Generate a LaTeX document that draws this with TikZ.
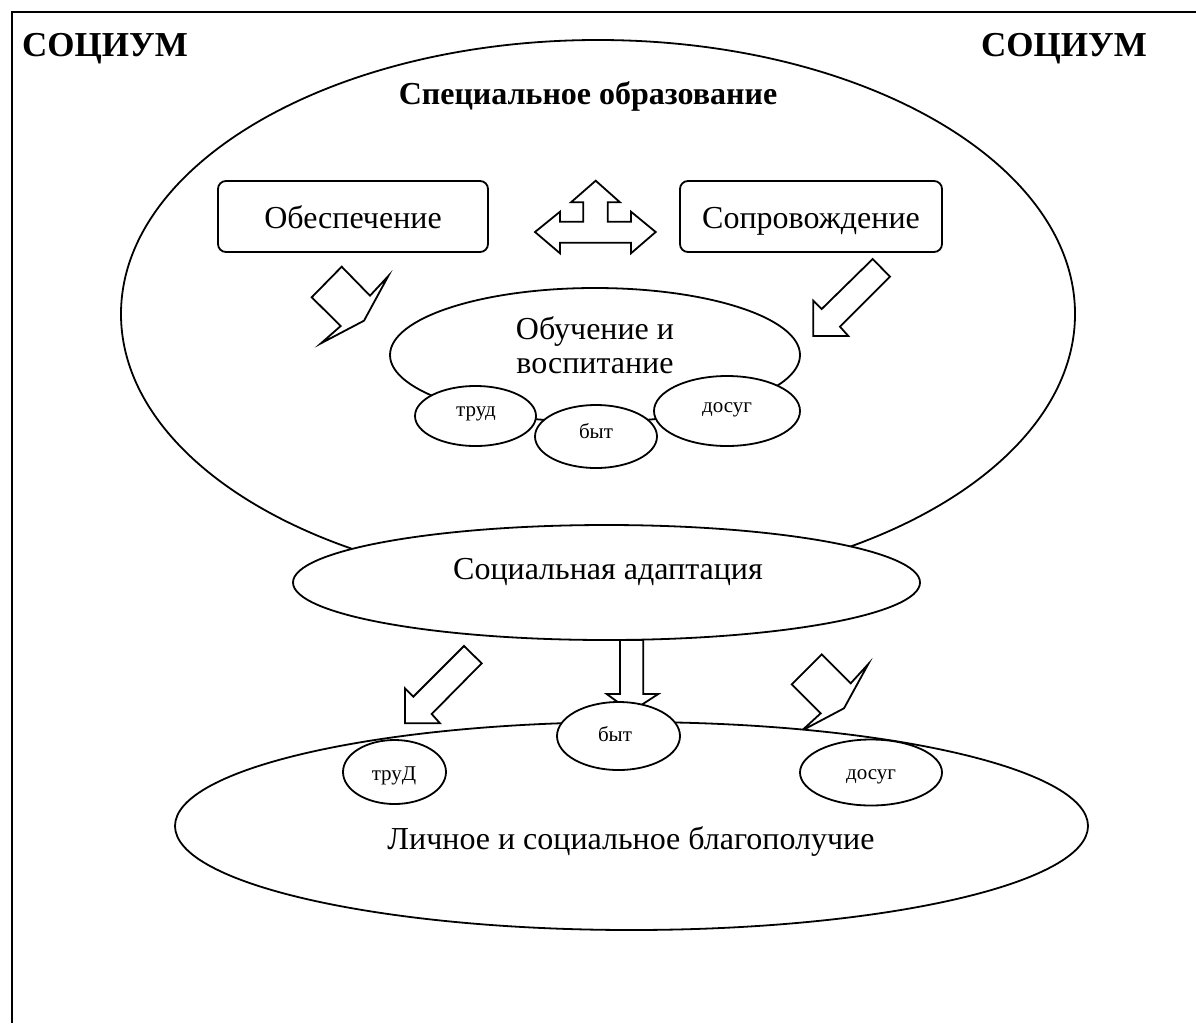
\documentclass[tikz,border=0pt]{standalone}
\usepackage{fontspec}
\setmainfont{Liberation Serif}
\usetikzlibrary{shapes.geometric}
\begin{document}
\begin{tikzpicture}[x=1pt,y=-1pt,
  line width=1.8pt, line join=miter,
  ov/.style={draw, ellipse, fill=white, inner sep=0pt},
  rbox/.style={draw, rounded corners=8pt, fill=white, inner sep=0pt},
  bigtxt/.style={font=\fontsize{35}{40}\selectfont\bfseries, text height=27pt, text depth=2pt},
  hdtxt/.style={font=\fontsize{32}{36}\selectfont\bfseries, text height=26pt, text depth=6pt},
  txt/.style={font=\fontsize{32}{34}\selectfont, text height=29pt, text depth=7pt},
  smtxt/.style={font=\fontsize{21}{24}\selectfont, text height=14.5pt, text depth=4.5pt},
  blk/.style={draw, fill=white}]
\useasboundingbox (0,0) rectangle (1196,1023);
% frame
\coordinate (fa) at (12,1023);
\coordinate (fb) at (12,12);
\coordinate (fc) at (1196,12);
\draw (fa) -- (fb) -- (fc);
\node[bigtxt] (soc1) at (105,44) {СОЦИУМ};
\node[bigtxt] (soc2) at (1064,44) {СОЦИУМ};
% big ellipse
\node[ov, minimum width=954pt, minimum height=548pt] (big) at (598,314) {};
\node[hdtxt] (spec) at (588,94) {Специальное образование};
% boxes
\node[rbox, minimum width=270pt, minimum height=71pt] (obesp) at (353,216.5) {};
\node[txt] (obespt) at (353,217) {Обеспечение};
\node[rbox, minimum width=262pt, minimum height=71pt] (sopr) at (811,216.5) {};
\node[txt] (soprt) at (811,217) {Сопровождение};
% three-way arrow
\draw[blk] (595.7,180.7) -- (620,202.3) -- (607.7,202.3) -- (607.7,221.7) -- (631,221.7) -- (631,211.7) -- (655.7,232) -- (631,253.3) -- (631,242.7) -- (560,242.7) -- (560,253.3) -- (535,232) -- (560,211.7) -- (560,221.7) -- (583.3,221.7) -- (583.3,202.3) -- (571,202.3) -- cycle;
% upper left pentagon arrow
\draw[blk] (341.7,266.7) -- (370,295.7) -- (388.3,276) -- (364,320.7) -- (321,343.3) -- (340.7,326) -- (311.7,297.3) -- cycle;
% upper right arrow
\draw[blk] (872.7,259) -- (890,276.7) -- (840,326.7) -- (848.3,336) -- (813.3,336) -- (813.3,300.7) -- (821.7,309) -- cycle;
% learning ellipse
\node[ov, minimum width=410pt, minimum height=134pt] (obuch) at (595,355) {};
\node[txt] (obucht1) at (595,328) {Обучение и};
\node[txt] (obucht2) at (595,362) {воспитание};
\node[ov, minimum width=121pt, minimum height=60pt] (trud) at (475.5,416) {};
\node[smtxt] at (476,411) {труд};
\node[ov, minimum width=122pt, minimum height=63pt] (byt) at (596,436.5) {};
\node[smtxt] at (596,433) {быт};
\node[ov, minimum width=146pt, minimum height=70pt] (dosug) at (727,411) {};
\node[smtxt] at (727,407) {досуг};
% adaptation
\node[ov, minimum width=627pt, minimum height=115pt] (adapt) at (606.5,582.5) {};
\node[txt] (adaptt) at (608,568) {Социальная адаптация};
% lower arrows
\draw[blk] (464,646) -- (481.7,663.3) -- (431.7,714) -- (440,723.3) -- (405,723.3) -- (405,688.3) -- (413.3,696.7) -- cycle;
\draw[blk] (620,640) -- (643.3,640) -- (643.3,694) -- (658.3,694) -- (631,711.7) -- (606.7,694) -- (620,694) -- cycle;
\draw[blk] (821.7,654.3) -- (850.7,683.3) -- (868.3,664) -- (844,708.3) -- (801.7,730.7) -- (820.7,713.3) -- (791.7,684.3) -- cycle;
% wellbeing
\node[ov, minimum width=913pt, minimum height=208pt] (lich) at (631.5,826) {};
\node[txt] (licht) at (631,838) {Личное и социальное благополучие};
\node[ov, minimum width=103pt, minimum height=64pt] (trud2) at (394.5,772) {};
\node[smtxt] at (394,775) {труД};
\node[ov, minimum width=123pt, minimum height=68pt] (byt2) at (618.5,736) {};
\node[smtxt] at (615,736) {быт};
\node[ov, minimum width=142pt, minimum height=66pt] (dosug2) at (871,772.5) {};
\node[smtxt] at (871,774) {досуг};
\end{tikzpicture}
\end{document}
